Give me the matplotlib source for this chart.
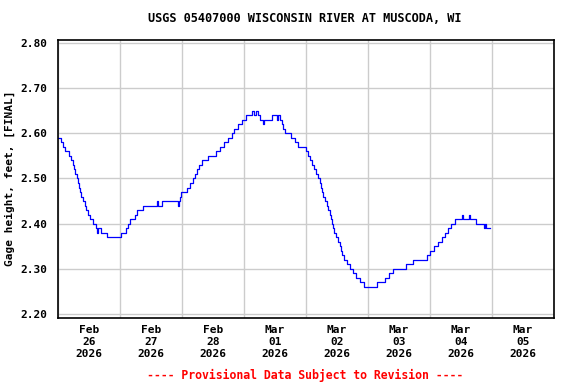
import matplotlib
matplotlib.use("Agg")
import matplotlib.pyplot as plt
import numpy as np
import pandas as pd

title = "USGS 05407000 WISCONSIN RIVER AT MUSCODA, WI"
ylabel = "Gage height, feet, [FINAL]"
footer = "---- Provisional Data Subject to Revision ----"
start = "2026-02-26 00:00"
day_labels = ["Feb\n26\n2026", "Feb\n27\n2026", "Feb\n28\n2026", "Mar\n01\n2026",
              "Mar\n02\n2026", "Mar\n03\n2026", "Mar\n04\n2026", "Mar\n05\n2026"]
y_ticks = [2.20, 2.30, 2.40, 2.50, 2.60, 2.70, 2.80]

# hours since start, gage height (step changes)
hours = [0, 1.25, 2, 2.75, 4.25, 5, 5.75, 6.25, 6.5, 7.25, 7.75, 8.25, 8.5, 9, 9.75,
         10.5, 11, 11.5, 12.5, 13.5, 14.75, 15.0, 15.5, 16.75, 19,
         24.25, 26.25, 27.25, 27.75, 29.75, 30.75, 33, 38.25, 38.75, 40.25,
         46.5, 46.75, 47.25, 47.5, 50, 51, 52.25, 53, 53.75, 54.5, 55.75, 58,
         61.25, 62.75, 64.25, 65.75, 67.25, 68, 69.75, 71.25, 72.75, 75, 75.75,
         76.75, 77.5, 78.25, 79.25, 79.75, 82.75, 84.75, 85.25, 86, 86.75, 87,
         88, 90.25, 91.75, 93, 96, 96.75, 97.5, 98.25, 99, 99.75, 100.75, 101.5,
         101.75, 102.25, 102.5, 103.25, 104, 104.5, 105.25, 105.75, 106, 106.5,
         106.75, 107.5, 108.5, 109.25, 109.5, 110, 110.75, 111.75, 113, 114.25,
         115.25, 117, 118.5, 123.5, 126.5, 128, 129.75, 134.75, 137.5, 142.75,
         144, 145.5, 147, 148.75, 149.75, 151, 152.25, 153.75, 156.25, 156.75,
         159, 159.5, 161.75, 165, 165.25, 165.5, 167.25]
heights = [2.59, 2.58, 2.57, 2.56, 2.55, 2.54, 2.53, 2.52, 2.51, 2.50, 2.49, 2.48, 2.47, 2.46, 2.45,
           2.44, 2.43, 2.42, 2.41, 2.40, 2.39, 2.38, 2.39, 2.38, 2.37,
           2.38, 2.39, 2.40, 2.41, 2.42, 2.43, 2.44, 2.45, 2.44, 2.45,
           2.44, 2.45, 2.46, 2.47, 2.48, 2.49, 2.50, 2.51, 2.52, 2.53, 2.54, 2.55,
           2.56, 2.57, 2.58, 2.59, 2.60, 2.61, 2.62, 2.63, 2.64, 2.65, 2.64,
           2.65, 2.64, 2.63, 2.62, 2.63, 2.64, 2.63, 2.64, 2.63, 2.62, 2.61,
           2.60, 2.59, 2.58, 2.57, 2.56, 2.55, 2.54, 2.53, 2.52, 2.51, 2.50, 2.49,
           2.48, 2.47, 2.46, 2.45, 2.44, 2.43, 2.42, 2.41, 2.40, 2.39,
           2.38, 2.37, 2.36, 2.35, 2.34, 2.33, 2.32, 2.31, 2.30, 2.29,
           2.28, 2.27, 2.26, 2.27, 2.28, 2.29, 2.30, 2.31, 2.32, 2.33,
           2.34, 2.35, 2.36, 2.37, 2.38, 2.39, 2.40, 2.41, 2.42, 2.41,
           2.42, 2.41, 2.40, 2.39, 2.40, 2.39, 2.39]

t0 = pd.Timestamp(start)
times = [t0 + pd.Timedelta(hours=h) for h in hours]

plt.rcParams['font.family'] = ['DejaVu Sans Mono']
fig = plt.figure(figsize=(5.76, 3.84), dpi=100)
ax = fig.add_axes([58/576, 1-318/384, 496/576, 278/384])

ax.plot(times, heights, drawstyle='steps-post', color='#0000ff', linewidth=0.9)

ax.set_xlim(t0, t0 + pd.Timedelta(days=8))
ax.set_ylim(2.1911, 2.8066)

midnights = [t0 + pd.Timedelta(days=i) for i in range(9)]
noons = [t0 + pd.Timedelta(days=i, hours=12) for i in range(8)]
ax.set_xticks(midnights)
ax.set_xticklabels([""] * len(midnights))
ax.set_xticks(noons, minor=True)
ax.set_xticklabels(day_labels, minor=True, fontsize=8, fontweight='bold', linespacing=1.25)
ax.tick_params(axis='x', which='both', length=0, pad=5)
ax.set_yticks(y_ticks)
ax.set_yticklabels([f"{v:.2f}" for v in y_ticks], fontsize=8, fontweight='bold')
ax.tick_params(axis='y', length=0, pad=8)

ax.grid(True, which='major', color='#cccccc', linewidth=1.0)
ax.set_axisbelow(True)
for s in ax.spines.values():
    s.set_linewidth(1.2)
    s.set_color('black')

ax.set_ylabel(ylabel, fontsize=8, fontweight='bold')
ax.yaxis.set_label_coords(-0.087, 0.504)
fig.text(305/576, 1-19/384, title, ha='center', va='center', fontsize=8.6, fontweight='bold')
fig.text(305/576, 1-375/384, footer, ha='center', va='center', fontsize=8.3, fontweight='bold', color='red')

fig.savefig("out.png", dpi=100)
